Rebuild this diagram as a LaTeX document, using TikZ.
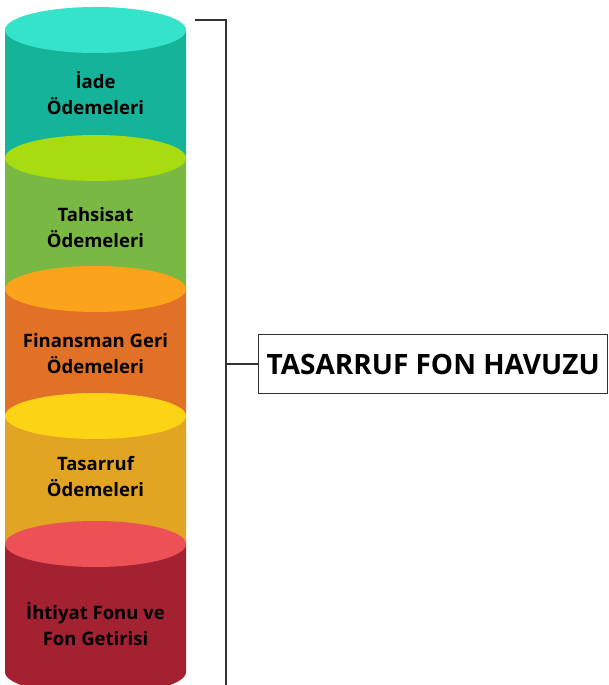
\documentclass[tikz,border=0pt]{standalone}
\usepackage{fontspec}
\setmainfont{Open Sans}
\definecolor{topA}{HTML}{34E3C9}\definecolor{bodyA}{HTML}{14B39A}
\definecolor{topB}{HTML}{A8DC10}\definecolor{bodyB}{HTML}{78B843}
\definecolor{topC}{HTML}{FBA31A}\definecolor{bodyC}{HTML}{E07126}
\definecolor{topD}{HTML}{FDD316}\definecolor{bodyD}{HTML}{E2A523}
\definecolor{topE}{HTML}{EC5255}\definecolor{bodyE}{HTML}{A32131}
\definecolor{linegray}{HTML}{333333}
\newcommand\cylseg[4]{%
  \fill[#3] (5,#1) -- (5,#2) arc[start angle=180,end angle=360,x radius=90.5pt,y radius=23pt] -- (186,#1) -- cycle;
  \fill[#4] (95.5,#1) ellipse[x radius=90.5pt,y radius=23pt];
}
\tikzset{
  seglabel/.style={font=\bfseries\fontsize{18.5}{26}\selectfont, align=center, text=black},
  poolbox/.style={draw=linegray, line width=1.2pt, font=\bfseries\fontsize{28}{34}\selectfont, minimum height=59pt, minimum width=349pt, inner sep=0pt},
  bracket/.style={draw=linegray, line width=1.3pt}
}
\begin{document}
\begin{tikzpicture}[x=1pt,y=1pt]
\useasboundingbox (0,0) rectangle (608,685);
\begin{scope}
\clip (0,0) rectangle (608,685);
\cylseg{655}{527}{bodyA}{topA}
\cylseg{527}{396}{bodyB}{topB}
\cylseg{396}{269}{bodyC}{topC}
\cylseg{269}{141}{bodyD}{topD}
\cylseg{141}{13}{bodyE}{topE}
\end{scope}
\node[seglabel] (l1) at (95.5,592) {İade\\Ödemeleri};
\node[seglabel] (l2) at (95.5,457) {Tahsisat\\Ödemeleri};
\node[seglabel] (l3) at (95.5,331) {Finansman Geri\\Ödemeleri};
\node[seglabel] (l4) at (95.5,208) {Tasarruf\\Ödemeleri};
\node[seglabel] (l5) at (95.5,61) {İhtiyat Fonu ve\\Fon Getirisi};
\node[poolbox, anchor=west] (pool) at (258,321) {TASARRUF FON HAVUZU};
\coordinate (bt) at (195,665);
\coordinate (bc) at (226,665);
\coordinate (bb) at (226,0);
\coordinate (bm) at (226,321);
\draw[bracket] (bt) -- (bc) -- (bb);
\draw[bracket] (bm) -- (pool.west);
\end{tikzpicture}
\end{document}
